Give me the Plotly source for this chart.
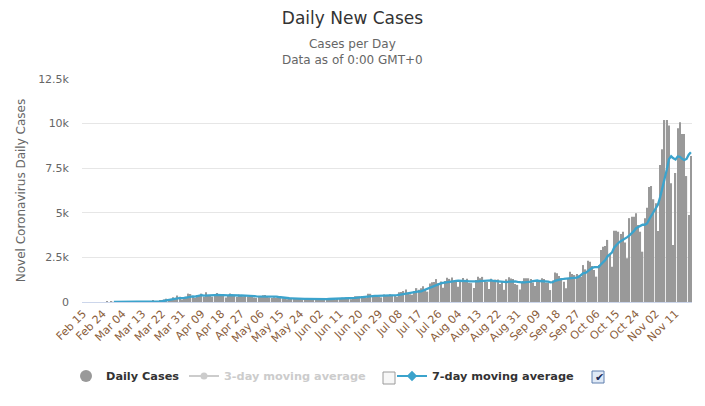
import plotly.graph_objects as go
import pandas as pd

# ---------------- data ----------------
start_date = "2020-02-15"

daily_cases = [
    # Feb 15 - Feb 29
    0, 0, 0, 0, 0, 0, 0, 0, 0, 0, 0, 1, 0, 2, 0,
    # Mar
    0, 0, 0, 1, 0, 3, 2, 2, 6, 3, 14, 19, 41, 34, 8, 27, 26, 76, 17, 31,
    59, 66, 143, 186, 144, 123, 263, 160, 363, 294, 136,
    # Apr
    240, 300, 470, 450, 290, 220, 390, 370, 470, 300, 540, 360, 380, 300, 380,
    510, 400, 390, 360, 250, 330, 480, 420, 360, 280, 420, 340, 320, 390, 300,
    # May
    380, 320, 250, 230, 330, 300, 380, 390, 320, 260, 230, 270, 230, 260, 250,
    210, 190, 150, 180, 200, 190, 170, 220, 190, 150, 130, 190, 150, 170, 180, 170,
    # Jun
    140, 115, 141, 180, 210, 223, 190, 150, 118, 203, 180, 235, 216, 250, 189,
    160, 270, 320, 320, 320, 330, 290, 230, 460, 460, 320, 310, 330, 300, 260,
    # Jul
    420, 390, 390, 430, 400, 340, 290, 550, 555, 614, 698, 513, 430, 400, 614,
    777, 689, 767, 889, 673, 581, 1030, 1112, 1120, 1284, 1052, 1151, 795, 1182, 1356, 1295,
    # Aug
    1378, 1153, 1120, 860, 1198, 1345, 1215, 1301, 1065, 1057, 790, 1238, 1415, 1330, 1408,
    1154, 1122, 733, 1305, 1200, 1256, 1256, 1011, 1151, 683, 1273, 1391, 1316, 1285, 1010, 960,
    # Sep
    700, 1080, 1330, 1330, 1330, 1290, 1100, 900, 1140, 1140, 1330, 1290, 1080, 1080, 670,
    1200, 1650, 1610, 1460, 1330, 1140, 770, 1330, 1700, 1570, 1510, 1570, 1480, 1420, 2070,
    # Oct
    1830, 2310, 2260, 2020, 1790, 1420, 2070, 2910, 3100, 3140, 3480, 2690, 1980, 3990, 3990,
    3940, 3810, 3940, 3330, 2450, 4700, 4780, 4780, 4970, 4320, 3940, 2820, 4690, 5290, 6450, 6500,
    # Nov 1 - Nov 18
    5760, 5530, 3980, 7680, 8560, 10200, 10200, 9900, 6650, 3200, 7230, 9740, 10070, 9420,
    9420, 7060, 4880, 8180,
]

moving_avg_7 = [None] * 14 + [
    # Feb 29
    0,
    # Mar
    0, 0, 0, 0, 0, 1, 1, 1, 2, 2, 4, 7, 12, 17, 18, 21, 24, 33, 33, 31,
    35, 43, 60, 83, 92, 107, 141, 155, 197, 219, 212,
    # Apr
    226, 251, 280, 322, 311, 301, 337, 356, 380, 356, 369, 379, 401, 389, 390,
    396, 410, 389, 389, 370, 374, 389, 376, 370, 354, 363, 376, 374, 361, 344,
    # May
    347, 353, 329, 313, 314, 301, 313, 314, 314, 316, 316, 307, 297, 280, 260,
    244, 234, 223, 210, 206, 196, 184, 186, 186, 186, 179, 177, 171, 171, 166, 163,
    # Jun
    161, 159, 152, 157, 162, 168, 171, 173, 173, 182, 182, 186, 185, 193, 199,
    205, 214, 234, 246, 261, 273, 287, 297, 324, 344, 344, 343, 343, 344, 349,
    # Jul
    343, 333, 343, 360, 370, 376, 380, 399, 422, 454, 492, 509, 521, 537, 546,
    578, 589, 599, 652, 687, 713, 772, 820, 882, 956, 979, 1047, 1078, 1099, 1134, 1159,
    # Aug
    1173, 1187, 1183, 1192, 1194, 1193, 1181, 1170, 1158, 1149, 1139, 1144, 1154, 1171, 1186,
    1199, 1208, 1200, 1210, 1179, 1168, 1147, 1126, 1130, 1123, 1119, 1146, 1154, 1159, 1158, 1131,
    # Sep
    1134, 1106, 1097, 1099, 1106, 1146, 1166, 1194, 1203, 1176, 1176, 1170, 1140, 1137, 1104,
    1113, 1186, 1226, 1250, 1286, 1294, 1309, 1327, 1334, 1329, 1336, 1370, 1419, 1511, 1617,
    # Oct
    1636, 1741, 1849, 1913, 1957, 1957, 1957, 2111, 2224, 2350, 2559, 2687, 2767, 3041, 3196,
    3316, 3411, 3477, 3569, 3636, 3737, 3850, 3970, 4136, 4190, 4277, 4330, 4329, 4401, 4640, 4859,
    # Nov 1 - Nov 18
    5064, 5291, 5457, 5884, 6351, 6887, 7416, 8007, 8167, 8056, 7991, 8160, 8141, 8030,
    7961, 8020, 8260, 8396,
]

y_tick_values = [0, 2500, 5000, 7500, 10000, 12500]
y_tick_labels = ["0", "2.5k", "5k", "7.5k", "10k", "12.5k"]

dates = pd.date_range(start_date, periods=len(daily_cases)).strftime("%b %d").tolist()
x_tick_labels = dates[::9]

# ---------------- layout helpers (pixel -> paper) ----------------
W, H = 705, 406
PL, PR, PT, PB = 82, 692, 79, 302


def px_x(px):
    return (px - PL) / (PR - PL)


def px_y(py):
    return (PB - py) / (PB - PT)


FONT = "Lucida Grande, Lucida Sans Unicode, DejaVu Sans, sans-serif"
LEG_SIZE = 11.3

fig = go.Figure()

fig.add_trace(go.Bar(
    x=dates, y=daily_cases, name="Daily Cases",
    marker=dict(color="#999999", line=dict(width=0)),
    legendgroup="daily", showlegend=False,
))
fig.add_trace(go.Scatter(
    x=[None], y=[None], name="Daily Cases", mode="markers",
    marker=dict(symbol="circle", size=12, color="#999999"),
    legendgroup="daily", legend="legend",
))
fig.add_trace(go.Scatter(
    x=[None], y=[None], name="3-day moving average", mode="lines+markers",
    line=dict(color="#cccccc", width=2),
    marker=dict(symbol="circle", size=7, color="#cccccc"),
    legend="legend2",
))
fig.add_trace(go.Scatter(
    x=dates, y=moving_avg_7, name="7-day moving average", mode="lines",
    line=dict(color="#3ba3cc", width=2.3),
    legendgroup="avg7", showlegend=False,
))
fig.add_trace(go.Scatter(
    x=[None], y=[None], name="7-day moving average", mode="lines+markers",
    line=dict(color="#3ba3cc", width=2),
    marker=dict(symbol="diamond", size=8, color="#3ba3cc"),
    legendgroup="avg7", legend="legend3",
))

legend_common = dict(
    orientation="h", xanchor="left", yanchor="middle",
    font=dict(family=FONT, size=LEG_SIZE, color="#333333", weight="bold"),
    bgcolor="rgba(0,0,0,0)", itemclick=False, itemdoubleclick=False,
)

fig.update_layout(
    width=W, height=H,
    margin=dict(l=PL, r=W - PR, t=PT, b=H - PB, pad=0),
    paper_bgcolor="white", plot_bgcolor="white",
    font=dict(family=FONT, color="#666666"),
    bargap=0.42,
    title=dict(
        text="Daily New Cases", x=0.5, xref="container", xanchor="center",
        y=1 - 18 / H, yref="container", yanchor="middle",
        font=dict(family=FONT, size=17, color="#333333"),
    ),
    xaxis=dict(
        type="category", categoryorder="array", categoryarray=dates,
        range=[-0.5, len(dates) - 0.5],
        tickmode="array", tickvals=x_tick_labels, ticktext=x_tick_labels,
        tickangle=-45, tickfont=dict(family=FONT, size=11, color="#8a5d3b"),
        showgrid=False, showline=True, linecolor="#ccd6eb", linewidth=1,
        ticks="", zeroline=False, fixedrange=True,
    ),
    yaxis=dict(
        range=[0, 12500], tickmode="array", tickvals=y_tick_values, ticktext=y_tick_labels,
        tickfont=dict(family=FONT, size=11, color="#666666"),
        showgrid=True, gridcolor="#e6e6e6", gridwidth=1,
        zeroline=False, showline=False, ticks="", ticklabelstandoff=12,
        title=dict(text="Novel Coronavirus Daily Cases",
                   font=dict(family=FONT, size=12, color="#666666"), standoff=9),
        fixedrange=True,
    ),
    legend=dict(x=px_x(66), y=px_y(376), **legend_common),
    legend2=dict(x=px_x(184), y=px_y(376), **{**legend_common,
                 "font": dict(family=FONT, size=LEG_SIZE, color="#cccccc", weight="bold")}),
    legend3=dict(x=px_x(392), y=px_y(376), **legend_common),
    annotations=[
        dict(text="Cases per Day<br>Data as of 0:00 GMT+0", x=px_x(352.5), xref="paper",
             y=px_y(52), yref="paper", xanchor="center", yanchor="middle",
             showarrow=False, align="center",
             font=dict(family=FONT, size=12, color="#666666")),
        dict(text="✔", x=px_x(599), y=px_y(377), xref="paper", yref="paper",
             showarrow=False, xanchor="center", yanchor="middle",
             font=dict(family=FONT, size=11, color="#1a2a55")),
    ],
    shapes=[
        dict(type="rect", xref="paper", yref="paper",
             x0=px_x(383), x1=px_x(395), y0=px_y(384), y1=px_y(372),
             line=dict(color="#9a9a9a", width=1), fillcolor="#f7f7f7"),
        dict(type="rect", xref="paper", yref="paper",
             x0=px_x(592), x1=px_x(604), y0=px_y(383), y1=px_y(371),
             line=dict(color="#5f7fae", width=1), fillcolor="#dfe9f6"),
    ],
)

fig.write_html(
    "out.html",
    config={"displayModeBar": False},
    post_script="document.body.style.margin='0';document.body.style.padding='0';",
)
